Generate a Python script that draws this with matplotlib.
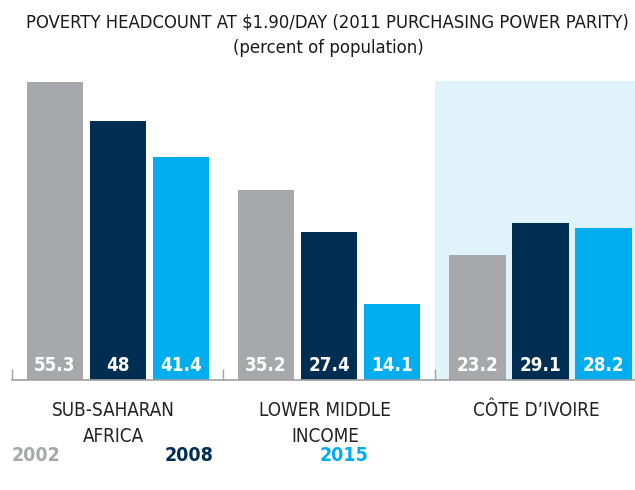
import numpy as np
import matplotlib
matplotlib.use("Agg")
import matplotlib.pyplot as plt

# data
groups = ["SUB-SAHARAN\nAFRICA", "LOWER MIDDLE\nINCOME", "CÔTE D\u2019IVOIRE"]
years = ["2002", "2008", "2015"]
v2002 = [55.3, 35.2, 23.2]
v2008 = [48, 27.4, 29.1]
v2015 = [41.4, 14.1, 28.2]
series = [v2002, v2008, v2015]
colors = ["#A7A8AB", "#002D52", "#00AEEF"]

plt.rcParams["font.family"] = ["DejaVu Sans"]
plt.rcParams["font.stretch"] = "condensed"

fig = plt.figure(figsize=(6.35, 4.9), dpi=100)
# axes placed in pixel terms: baseline at y=380, top at y=70
ax = fig.add_axes([12 / 635, (490 - 380) / 490, 623 / 635, 310 / 490])

x = np.arange(len(groups))
off = 0.298
w = 0.265
ymax = 57.5

# highlight Côte d'Ivoire
ax.axvspan(1.5, 2.5, ymin=0, ymax=55.5 / ymax, color="#E0F2FA", zorder=0, lw=0)

for i, (vals, c) in enumerate(zip(series, colors)):
    pos = x + (i - 1) * off
    bars = ax.bar(pos, vals, width=w, color=c, zorder=2)
    for b, v in zip(bars, vals):
        ax.text(b.get_x() + b.get_width() / 2, 2.6, f"{v:g}", ha="center", va="center",
                color="white", fontsize=13.5, fontweight="bold", zorder=3)

ax.set_xlim(-0.499, 2.447)
ax.set_ylim(0, ymax)
for s in ["top", "right", "left"]:
    ax.spines[s].set_visible(False)
ax.spines["bottom"].set_color("#A0A0A0")
ax.spines["bottom"].set_linewidth(1.2)
ax.set_yticks([])
ax.set_xticks([-0.5, 0.5, 1.5])
ax.set_xticklabels([])
ax.tick_params(axis="x", direction="in", length=8, color="#A0A0A0", width=1)

for xi, g in zip(x, groups):
    ax.text(xi - 0.02, -3.9, g, ha="center", va="top", fontsize=13.5, color="#222222",
            linespacing=1.45)

# title
fig.text(0.515, 1 - 22 / 490, "POVERTY HEADCOUNT AT $1.90/DAY (2011 PURCHASING POWER PARITY)",
         ha="center", va="center", fontsize=13.2, color="#1a1a1a")
fig.text(0.517, 1 - 48 / 490, "(percent of population)", ha="center", va="center",
         fontsize=13.2, color="#1a1a1a")

# legend as colored year labels
for xp, y, c in zip([12, 165, 320], years, colors):
    fig.text(xp / 635, 1 - 455 / 490, y, ha="left", va="center", fontsize=14,
             fontweight="bold", color=c)

fig.savefig("out.png", dpi=100)
